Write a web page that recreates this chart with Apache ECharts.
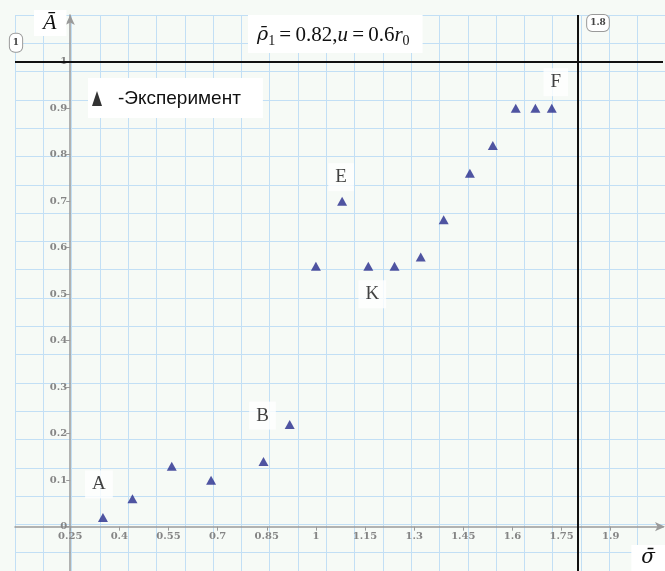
<!DOCTYPE html>
<html>
<head>
<meta charset="utf-8">
<script src="https://cdn.jsdelivr.net/npm/echarts@6/dist/echarts.min.js"></script>
<style>
  html, body { margin: 0; padding: 0; background: #f6faf6; }
  #chart { width: 665px; height: 571px; }
</style>
</head>
<body>
<div id="chart"></div>
<script>
// Experimental points: relative stress sigma vs. relative amplitude A
const sigma = [0.35, 0.44, 0.56, 0.68, 0.84, 0.92, 1.00, 1.08, 1.16, 1.24, 1.32, 1.39, 1.47, 1.54, 1.61, 1.67, 1.72];
const amp   = [0.02, 0.06, 0.13, 0.10, 0.14, 0.22, 0.56, 0.70, 0.56, 0.56, 0.58, 0.66, 0.76, 0.82, 0.90, 0.90, 0.90];
const tags  = ['A', '', '', '', 'B', '', '', 'E', 'K', '', '', '', '', '', '', '', 'F'];

const xTicks = [0.25, 0.4, 0.55, 0.7, 0.85, 1, 1.15, 1.3, 1.45, 1.6, 1.75, 1.9];
const yTicks = [0, 0.1, 0.2, 0.3, 0.4, 0.5, 0.6, 0.7, 0.8, 0.9, 1];

// reference lines
const refLevel = 1;
const refSigma = 1.8;

const seriesName = 'Эксперимент';

// ---- layout / styling ----
const W = 665, H = 571;
const G_LEFT = 15, G_RIGHT = 2, G_TOP = 15, G_BOTTOM = 0;
const X_MIN = 0.0815, X_MAX = 2.0595;
const Y_MIN = -0.0953, Y_MAX = 1.1004;
const X_CROSS = 0.25;                 // y axis crosses x here
const PAPER_STEP = 28.3;              // worksheet grid cell, px

// pixel shifts that move the axes onto their crossing values
const gW = W - G_LEFT - G_RIGHT, gH = H - G_TOP - G_BOTTOM;
const yAxisShift = -((X_CROSS - X_MIN) / (X_MAX - X_MIN)) * gW;
const zeroFromTop = ((Y_MAX - 0) / (Y_MAX - Y_MIN)) * gH;
const xAxisShift = -(gH - zeroFromTop);

const tagOffset = { A: [-4, -33], B: [-1, -46], E: [-1, -24], K: [4, 28], F: [4, -26] };

const axisGrey = '#9a9a9a';
const tickLabel = {
  fontFamily: 'DejaVu Serif', fontWeight: 'bold', fontSize: 10, color: '#858585'
};

const chart = echarts.init(document.getElementById('chart'), null, { renderer: 'canvas' });

const points = sigma.map((x, i) => {
  const t = tags[i];
  return {
    value: [x, amp[i]],
    label: t ? { show: true, formatter: t, offset: tagOffset[t] } : { show: false }
  };
});

const serif = 'Liberation Serif';
const wideBounds = { left: -80, right: -80, top: -80, bottom: -80 };
const option = {
  backgroundColor: '#f6faf6',
  animation: false,
  legend: {
    data: [{ name: seriesName, icon: 'triangle', itemStyle: { color: '#000' } }],
    left: 88, top: 78,
    itemWidth: 10, itemHeight: 15,
    backgroundColor: '#ffffff',
    padding: [11, 22, 10, 4],
    selectedMode: false,
    formatter: n => '-' + n,
    textStyle: { fontFamily: 'Liberation Sans', fontSize: 19, color: '#111', padding: [0, 0, 0, 11] }
  },
  grid: [
    { left: G_LEFT, right: G_RIGHT, top: G_TOP, bottom: G_BOTTOM, containLabel: false, outerBounds: wideBounds },
    { left: 15, right: 0, top: 15, bottom: 0, containLabel: false, outerBounds: wideBounds }
  ],
  xAxis: [
    {
      type: 'value', gridIndex: 0, position: 'bottom', offset: xAxisShift, min: X_MIN, max: X_MAX,
      axisLine: {
        onZero: false,
        symbol: ['none', 'arrow'], symbolSize: [7, 10], symbolOffset: [0, 2],
        lineStyle: { color: axisGrey, width: 1.5 }
      },
      axisTick: { customValues: xTicks, length: 4, lineStyle: { color: axisGrey } },
      axisLabel: { customValues: xTicks, margin: 5, ...tickLabel, formatter: v => String(v) },
      splitLine: { show: false }
    },
    {
      // worksheet paper grid
      type: 'value', gridIndex: 1, min: 0, max: 650 / PAPER_STEP, interval: 1,
      axisLine: { show: false }, axisTick: { show: false }, axisLabel: { show: false },
      splitLine: { show: true, lineStyle: { color: '#c2dff5', width: 1 } }
    }
  ],
  yAxis: [
    {
      type: 'value', gridIndex: 0, min: Y_MIN, max: Y_MAX, offset: yAxisShift,
      axisLine: {
        show: true, onZero: false,
        symbol: ['none', 'arrow'], symbolSize: [7, 10],
        lineStyle: { color: axisGrey, width: 1.5 }
      },
      axisTick: { show: true, customValues: yTicks, length: 4, lineStyle: { color: axisGrey } },
      axisLabel: { customValues: yTicks, margin: 3, ...tickLabel, formatter: v => String(v) },
      splitLine: { show: false }
    },
    {
      type: 'value', gridIndex: 1, inverse: true, min: 0, max: 556 / PAPER_STEP, interval: 1,
      axisLine: { show: false }, axisTick: { show: false }, axisLabel: { show: false },
      splitLine: { show: true, lineStyle: { color: '#c2dff5', width: 1 } }
    }
  ],
  series: [
    {
      name: seriesName,
      type: 'scatter',
      xAxisIndex: 0, yAxisIndex: 0,
      symbol: 'triangle',
      symbolSize: [10, 9],
      itemStyle: { color: '#262b8c' },
      label: {
        position: 'inside',
        fontFamily: serif, fontSize: 19, color: '#111',
        backgroundColor: '#ffffff', padding: [5, 7, 4, 7]
      },
      data: points,
      markLine: {
        silent: true,
        symbol: 'none',
        label: { show: false },
        lineStyle: { color: '#111', width: 2, type: 'solid' },
        data: [{ yAxis: refLevel }, { xAxis: refSigma }]
      },
      z: 5
    }
  ]
};

chart.setOption(option);

// axis names, formula caption and region markers
const pLevel = chart.convertToPixel({ yAxisIndex: 0 }, refLevel);
const pSigma = chart.convertToPixel({ xAxisIndex: 0 }, refSigma);
const markerStyle = {
  fontFamily: 'DejaVu Serif', fontWeight: 'bold', fontSize: 9, fill: '#444',
  backgroundColor: '#ffffff', borderColor: '#9a9a9a', borderWidth: 1, borderRadius: 5,
  align: 'center', verticalAlign: 'middle'
};

chart.setOption({
  graphic: [
    {
      type: 'text', left: 248, top: 15, z: 10,
      style: {
        text: '{b|ρ\u0304}{s|1}{n|\u2009=\u20090.82,}{i|u}{n|\u2009=\u20090.6}{i|r}{s|0}',
        backgroundColor: '#ffffff',
        padding: [7, 13, 5, 9],
        rich: {
          b: { fontFamily: 'DejaVu Serif', fontStyle: 'italic', fontSize: 19, fill: '#111', lineHeight: 26 },
          i: { fontFamily: serif, fontStyle: 'italic', fontSize: 21, fill: '#111', lineHeight: 26 },
          n: { fontFamily: serif, fontSize: 21, fill: '#111', lineHeight: 26 },
          s: { fontFamily: serif, fontSize: 14, fill: '#111', lineHeight: 14, verticalAlign: 'bottom' }
        }
      }
    },
    {
      type: 'text', left: 34, top: 10, z: 10,
      style: {
        text: 'A\u0304', fontFamily: serif, fontStyle: 'italic', fontSize: 22, fill: '#111',
        backgroundColor: '#ffffff', padding: [2, 10, 2, 9]
      }
    },
    {
      type: 'text', right: 0, bottom: 0, z: 10,
      style: {
        text: 'σ\u0304', fontFamily: 'DejaVu Serif', fontStyle: 'italic', fontSize: 20, fill: '#111',
        backgroundColor: '#ffffff', padding: [3, 10, 3, 10]
      }
    },
    {
      type: 'text', x: 16, y: pLevel - 19, z: 10,
      style: Object.assign({ text: String(refLevel), padding: [5, 3, 4, 3] }, markerStyle)
    },
    {
      type: 'text', x: pSigma + 20, y: 23, z: 10,
      style: Object.assign({ text: String(refSigma), padding: [4, 3, 3, 3] }, markerStyle)
    }
  ]
});
</script>
</body>
</html>
